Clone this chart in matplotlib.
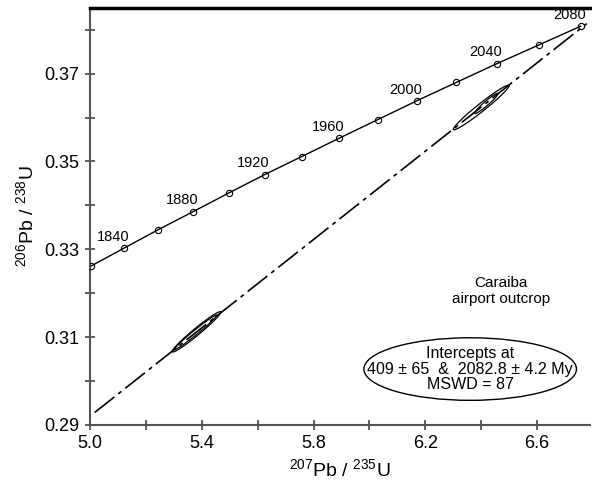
import numpy as np
import matplotlib
matplotlib.use("Agg")
import matplotlib.pyplot as plt
from matplotlib.patches import Ellipse

plt.rcParams['font.family'] = ['Liberation Sans', 'DejaVu Sans']
plt.rcParams['mathtext.default'] = 'regular'

# concordia points (every 20 My)
ages = [1820, 1840, 1860, 1880, 1900, 1920, 1940, 1960, 1980, 2000, 2020, 2040, 2060, 2080]
conc_x = [5.004, 5.123, 5.245, 5.370, 5.496, 5.625, 5.757, 5.892, 6.029, 6.169, 6.311, 6.457, 6.605, 6.756]
conc_y = [0.3262, 0.3303, 0.3345, 0.3386, 0.3428, 0.3470, 0.3511, 0.3553, 0.3595, 0.3638, 0.3680, 0.3723, 0.3765, 0.3808]
labelled = [1840, 1880, 1920, 1960, 2000, 2040, 2080]

# discordia: lower and upper intercept points
disc_x = [0.496, 6.7776]
disc_y = [0.0655, 0.38139]

# error ellipses: centre, half extent in x and y, correlation
ell_x = [5.381, 5.378, 6.400, 6.418]
ell_y = [0.3112, 0.3111, 0.3623, 0.3632]
ell_sx = [0.087, 0.075, 0.100, 0.042]
ell_sy = [0.0046, 0.0039, 0.0051, 0.0023]
ell_rho = [0.975, 0.985, 0.975, 0.96]

fig = plt.figure(figsize=(5.92, 4.84), dpi=100)
ax = fig.add_axes([0.152, 0.122, 0.845, 0.862])

ax.plot(conc_x, conc_y, color='black', lw=1.0, marker='o', ms=4.5,
        mfc='none', mec='black', mew=0.8, zorder=3)
for a, x, y in zip(ages, conc_x, conc_y):
    if a in labelled:
        ax.annotate(str(a), (x, y), xytext=(-8, 3), textcoords='offset points',
                    ha='center', va='bottom', fontsize=10.5)

ax.plot(disc_x, disc_y, color='black', lw=1.2, linestyle=(0, (15, 3, 2.4, 3)), zorder=2)

t = np.linspace(0, 2 * np.pi, 200)
for cx, cy, sx, sy, r in zip(ell_x, ell_y, ell_sx, ell_sy, ell_rho):
    ex = cx + sx * np.cos(t)
    ey = cy + sy * (r * np.cos(t) + np.sqrt(1 - r ** 2) * np.sin(t))
    ax.plot(ex, ey, color='black', lw=0.9, zorder=3)

ax.set_xlim(5.0, 6.79)
ax.set_ylim(0.29, 0.385)
ax.set_xticks([5.0, 5.4, 5.8, 6.2, 6.6])
ax.set_xticklabels(['5.0', '5.4', '5.8', '6.2', '6.6'])
ax.set_xticks([5.2, 5.6, 6.0, 6.4], minor=True)
ax.set_yticks([0.29, 0.31, 0.33, 0.35, 0.37])
ax.set_yticklabels(['0.29', '0.31', '0.33', '0.35', '0.37'])
ax.set_yticks([0.30, 0.32, 0.34, 0.36, 0.38], minor=True)
ax.tick_params(which='both', direction='inout', length=7, width=1.2,
               color='#444444', labelsize=13, pad=4)

ax.spines['right'].set_visible(False)
ax.spines['top'].set_linewidth(2.5)
ax.spines['top'].set_color('black')
for s in ['left', 'bottom']:
    ax.spines[s].set_linewidth(1.5)
    ax.spines[s].set_color('#555555')

ax.set_xlabel('$^{207}$Pb / $^{235}$U', fontsize=14, labelpad=4)
ax.set_ylabel('$^{206}$Pb / $^{238}$U', fontsize=14, labelpad=5)

ax.text(0.822, 0.321, 'Caraiba\nairport outcrop', transform=ax.transAxes,
        ha='center', va='center', fontsize=11, linespacing=1.2)

ax.add_patch(Ellipse((0.76, 0.134), 0.425, 0.15, transform=ax.transAxes,
                     fill=False, ec='black', lw=1.0))
ax.text(0.76, 0.134, 'Intercepts at\n409 ± 65  &  2082.8 ± 4.2 My\nMSWD = 87',
        transform=ax.transAxes, ha='center', va='center', fontsize=11.5,
        linespacing=1.05)

fig.savefig('out.png', dpi=100)
